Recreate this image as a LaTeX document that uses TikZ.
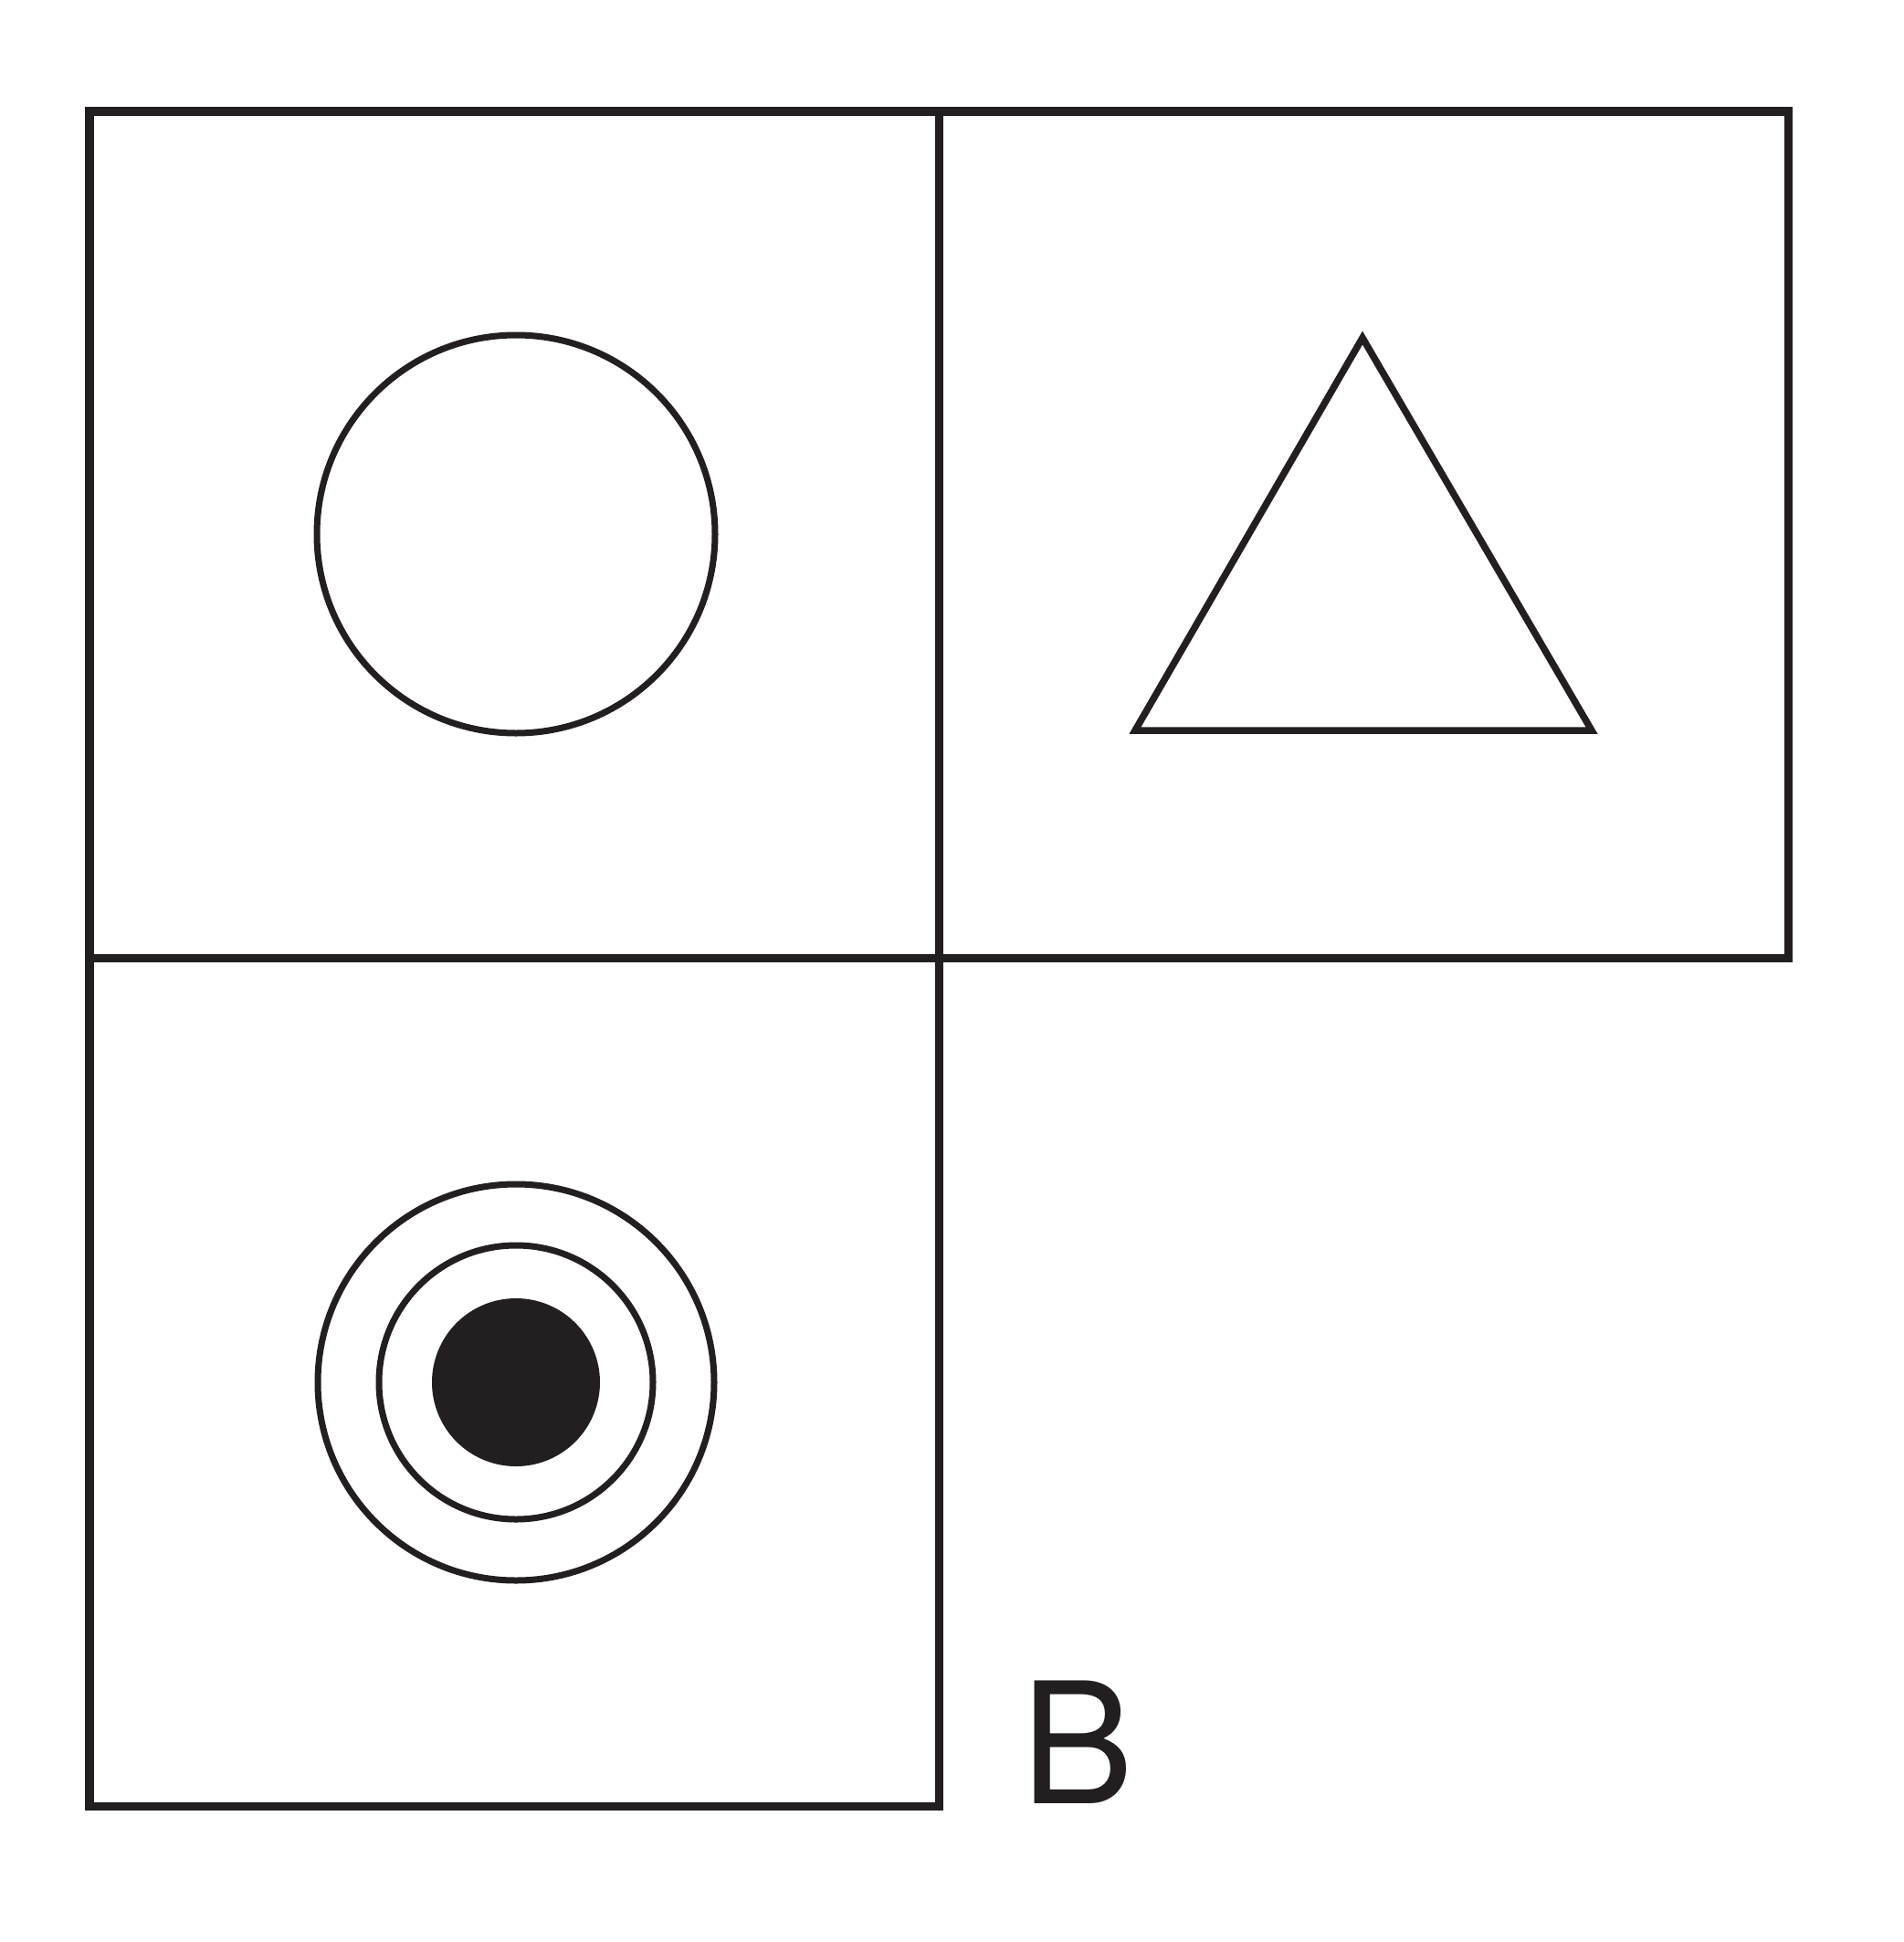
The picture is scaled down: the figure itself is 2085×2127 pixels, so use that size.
\documentclass[tikz,border=0pt]{standalone}
\usepackage{fontspec}
\setmainfont{TeX Gyre Heros}
\usepackage{xcolor}
\definecolor{ink}{HTML}{231F20}

\begin{document}
\begin{tikzpicture}[
            x=0.01cm, y=-0.01cm,
            gridline/.style={color=ink, line width=0.09cm},
            figline/.style={color=ink, line width=0.07cm},
            letternode/.style={color=ink, inner sep=0pt, anchor=base west, font=\fontsize{52.5pt}{63pt}\selectfont}
        ]
            \useasboundingbox (0,0) rectangle (2085,2127);

            % boxes
            \draw[gridline] (98,122) rectangle (1028,1049);
            \draw[gridline] (1028,122) rectangle (1958,1049);
            \draw[gridline] (98,1049) rectangle (1028,1978);

            % circle
            \draw[figline] (565,585) circle (218);

            % triangle
            \draw[figline, line width=0.075cm] (1243,800) -- (1743,800) -- (1492,370) -- cycle;

            % target
            \draw[figline] (565,1514) circle (217);
            \draw[figline] (565,1514) circle (150);
            \fill[ink] (565,1514) circle (92);

            % letter
            \node[letternode] (letterB) at (1118,1975) {B};

        \end{tikzpicture}
\end{document}
